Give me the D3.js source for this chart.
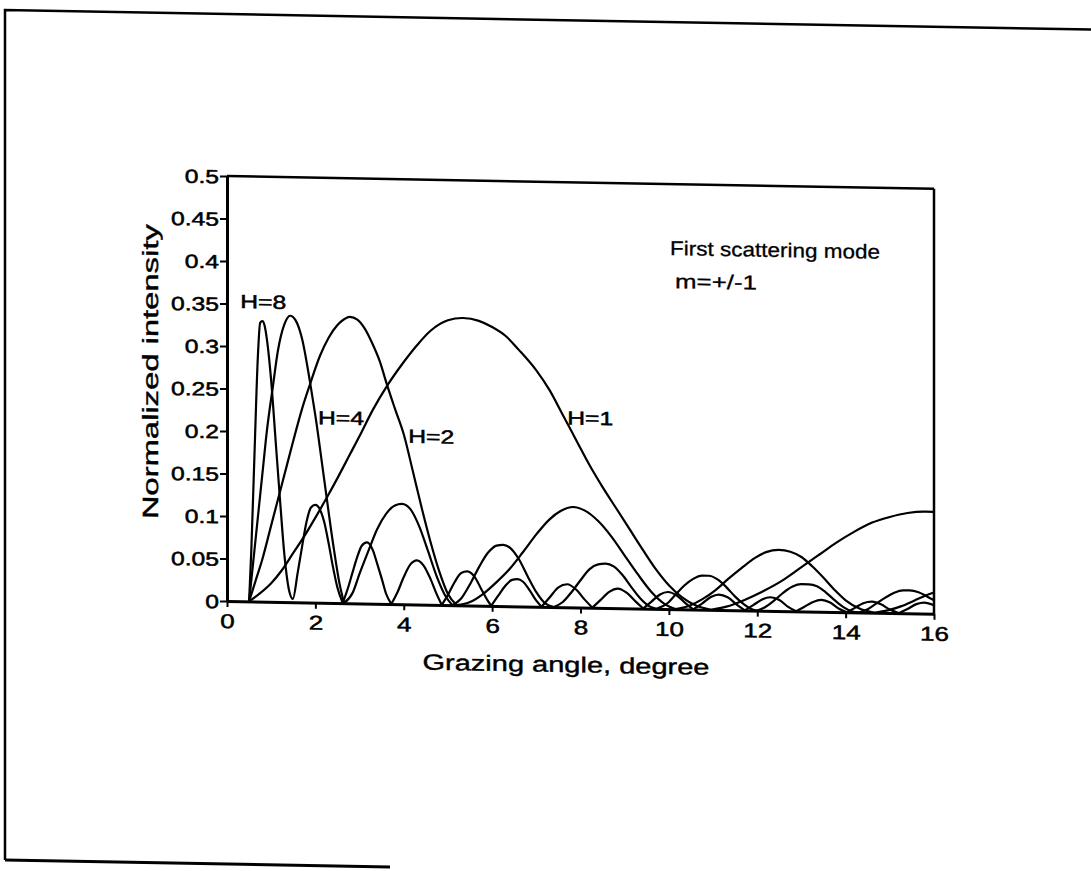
<!DOCTYPE html>
<html><head><meta charset="utf-8">
<script src="https://cdn.jsdelivr.net/npm/d3@7"></script>
<style>body{margin:0;background:#fff}svg{display:block}</style>
</head><body>
<svg id="c" width="1091" height="871"></svg>
<script>
// ---- data ----
const xTicks = [0, 2, 4, 6, 8, 10, 12, 14, 16];
const yTicks = [0, 0.05, 0.1, 0.15, 0.2, 0.25, 0.3, 0.35, 0.4, 0.45, 0.5];
const yTickLabels = ["0", "0.05", "0.1", "0.15", "0.2", "0.25", "0.3", "0.35", "0.4", "0.45", "0.5"];
const xTitle = "Grazing angle, degree";
const yTitle = "Normalized intensity";
const noteLines = ["First scattering mode", "m=+/-1"];
const seriesNames = ["H=8", "H=4", "H=2", "H=1"];

const H8 = [[0.5,0],[0.55,0.06],[0.62,0.17],[0.7,0.29],[0.75,0.328],[0.8,0.33],[0.85,0.325],[0.9,0.31],[1.0,0.26],[1.1,0.19],[1.2,0.12],[1.3,0.055],[1.4,0.015],[1.49,0.004],
 [1.6,0.035],[1.7,0.066],[1.8,0.095],[1.9,0.112],[2.0,0.115],[2.1,0.11],[2.2,0.095],[2.3,0.07],[2.4,0.042],[2.5,0.018],[2.62,0],
 [2.75,0.02],[2.85,0.038],[2.95,0.055],[3.05,0.068],[3.17,0.072],[3.3,0.063],[3.4,0.047],[3.5,0.03],[3.6,0.012],[3.72,0],
 [3.85,0.013],[4.0,0.032],[4.15,0.047],[4.3,0.052],[4.45,0.046],[4.6,0.031],[4.75,0.012],[4.86,0],
 [5.0,0.012],[5.15,0.027],[5.3,0.038],[5.44,0.04],[5.6,0.034],[5.75,0.02],[5.9,0.006],[5.98,0],
 [6.15,0.013],[6.3,0.024],[6.45,0.031],[6.57,0.032],[6.7,0.029],[6.85,0.019],[7.0,0.007],[7.12,0],
 [7.3,0.011],[7.5,0.023],[7.7,0.027],[7.9,0.021],[8.1,0.009],[8.27,0],
 [8.45,0.009],[8.65,0.019],[8.85,0.023],[9.05,0.018],[9.25,0.008],[9.42,0],
 [9.6,0.008],[9.8,0.017],[9.98,0.02],[10.18,0.016],[10.38,0.007],[10.55,0],
 [10.75,0.007],[10.95,0.015],[11.13,0.018],[11.33,0.015],[11.55,0.006],[11.72,0],
 [11.9,0.006],[12.1,0.013],[12.3,0.016],[12.5,0.013],[12.7,0.005],[12.88,0],
 [13.05,0.005],[13.25,0.011],[13.45,0.014],[13.65,0.011],[13.85,0.004],[14.03,0],
 [14.2,0.005],[14.4,0.011],[14.6,0.013],[14.8,0.01],[15.0,0.004],[15.2,0],
 [15.4,0.005],[15.6,0.011],[15.78,0.013],[16.0,0.01]];

const H4 = [[0.5,0],[0.6,0.05],[0.7,0.1],[0.8,0.15],[0.9,0.2],[1.04,0.254],[1.15,0.295],[1.3,0.327],[1.43,0.337],[1.55,0.332],[1.7,0.31],[1.88,0.259],[2.0,0.22],[2.2,0.145],[2.4,0.07],[2.55,0.022],[2.65,0],
 [2.85,0.013],[3.0,0.035],[3.2,0.062],[3.4,0.088],[3.6,0.106],[3.8,0.116],[3.96,0.118],[4.15,0.112],[4.35,0.092],[4.55,0.063],[4.75,0.033],[4.95,0.01],[5.1,0],
 [5.3,0.008],[5.5,0.025],[5.7,0.045],[5.9,0.062],[6.1,0.071],[6.25,0.072],[6.4,0.069],[6.6,0.056],[6.8,0.036],[7.0,0.017],[7.2,0.004],[7.4,0],
 [7.6,0.006],[7.8,0.018],[8.0,0.032],[8.2,0.045],[8.4,0.051],[8.57,0.052],[8.75,0.049],[8.95,0.039],[9.15,0.025],[9.35,0.012],[9.55,0.003],[9.72,0],
 [9.95,0.006],[10.15,0.017],[10.35,0.028],[10.55,0.036],[10.75,0.04],[10.9,0.04],[11.1,0.036],[11.3,0.027],[11.5,0.016],[11.7,0.007],[11.85,0.002],[12.0,0],
 [12.2,0.005],[12.4,0.013],[12.6,0.022],[12.8,0.029],[13.0,0.032],[13.17,0.032],[13.35,0.03],[13.55,0.023],[13.75,0.014],[13.95,0.006],[14.15,0.001],[14.3,0],
 [14.5,0.004],[14.7,0.011],[14.9,0.018],[15.1,0.024],[15.3,0.027],[15.45,0.027],[15.65,0.025],[15.85,0.02],[16.0,0.016]];

const H2 = [[0.5,0],[0.65,0.025],[0.8,0.05],[1.0,0.09],[1.15,0.12],[1.35,0.16],[1.5,0.19],[1.7,0.228],[1.88,0.257],[2.1,0.29],[2.3,0.312],[2.5,0.327],[2.65,0.334],[2.78,0.337],[2.95,0.334],[3.1,0.325],[3.3,0.305],[3.46,0.285],[3.62,0.258],[3.8,0.23],[4.0,0.2],[4.2,0.158],[4.4,0.115],[4.6,0.075],[4.8,0.04],[5.0,0.013],[5.2,0],
 [5.5,0.004],[5.8,0.014],[6.1,0.028],[6.4,0.044],[6.7,0.064],[7.0,0.085],[7.3,0.103],[7.55,0.113],[7.83,0.118],[8.1,0.114],[8.4,0.102],[8.7,0.084],[9.0,0.062],[9.3,0.04],[9.6,0.02],[9.9,0.006],[10.15,0],
 [10.45,0.004],[10.75,0.012],[11.05,0.023],[11.35,0.037],[11.65,0.05],[11.95,0.062],[12.2,0.069],[12.49,0.072],[12.75,0.07],[13.0,0.064],[13.25,0.053],[13.5,0.04],[13.75,0.026],[14.0,0.014],[14.3,0.005],[14.65,0],
 [14.95,0.003],[15.25,0.008],[15.55,0.015],[15.8,0.021],[16.0,0.025]];

const H1 = [[0.5,0],[0.75,0.01],[1.0,0.022],[1.25,0.038],[1.5,0.058],[1.75,0.078],[2.0,0.1],[2.25,0.123],[2.5,0.147],[2.75,0.172],[3.0,0.197],[3.3,0.228],[3.64,0.258],[4.0,0.285],[4.3,0.305],[4.6,0.322],[5.0,0.335],[5.34,0.338],[5.7,0.335],[6.0,0.328],[6.3,0.318],[6.6,0.302],[7.0,0.278],[7.3,0.255],[7.6,0.226],[7.9,0.197],[8.2,0.168],[8.5,0.142],[8.8,0.118],[9.1,0.094],[9.4,0.07],[9.7,0.047],[10.0,0.028],[10.3,0.014],[10.6,0.005],[10.95,0],
 [11.3,0.004],[11.7,0.012],[12.1,0.022],[12.6,0.037],[13.0,0.052],[13.4,0.067],[13.8,0.082],[14.2,0.095],[14.6,0.106],[15.0,0.113],[15.4,0.118],[15.8,0.12],[16.0,0.12]];

// label anchors (data coordinates) for the curve names
const labelX = [0.3, 2.06, 4.1, 7.7];
const labelY = [0.345, 0.21, 0.19, 0.215];

(function () {
const svg = d3.select("#c");
const FONT = "'Liberation Sans', Arial, Helvetica, sans-serif";
const pL = 227, pR = 934, pT = 172, pB = 597;
const shear = 1.03; // scanned page is slightly sheared

const page = svg.append("g").attr("transform", `skewY(${shear})`);
page.append("path").attr("d", "M5,860 L5,10 L1091,10").attr("fill", "none").attr("stroke", "#000").attr("stroke-width", 2.5);
page.append("line").attr("x1", 5).attr("y1", 860).attr("x2", 390).attr("y2", 860).attr("stroke", "#000").attr("stroke-width", 3);

const x = d3.scaleLinear().domain([0, 16]).range([pL, pR]);
const y = d3.scaleLinear().domain([0, 0.5]).range([pB, pT]);

const g = page.append("g");

g.append("line").attr("x1", pL).attr("x2", pR).attr("y1", y(0.5)).attr("y2", y(0.5)).attr("stroke", "#000").attr("stroke-width", 2.5);
g.append("line").attr("x1", pR).attr("x2", pR).attr("y1", y(0.5)).attr("y2", y(0)).attr("stroke", "#000").attr("stroke-width", 2.5);

const xAxis = d3.axisBottom(x).tickValues(xTicks).tickFormat(d3.format("d")).tickSize(6).tickSizeOuter(0).tickPadding(3);
const yAxis = d3.axisLeft(y).tickValues(yTicks).tickFormat((d, i) => yTickLabels[i]).tickSize(7).tickSizeOuter(0).tickPadding(1);

const gx = g.append("g").attr("transform", `translate(0,${pB})`).call(xAxis);
const gy = g.append("g").attr("transform", `translate(${pL},0)`).call(yAxis);
[gx, gy].forEach(a => {
  a.select(".domain").attr("stroke", "#000").attr("stroke-width", 3);
  a.selectAll(".tick line").attr("stroke", "#000").attr("stroke-width", 2);
  a.selectAll(".tick text").attr("fill", "#000").attr("font-family", FONT).attr("class", "stretch")
    .attr("stroke", "#000").attr("stroke-width", 0.5);
});
gy.selectAll(".tick text").attr("font-size", 19).attr("dy", "0.36em");
gx.selectAll(".tick text").attr("font-size", 20).attr("dy", "0.9em");

const line = d3.line().x(d => x(d[0])).y(d => y(d[1])).curve(d3.curveMonotoneX);
function lobes(data) {
  const segs = []; let cur = [data[0]];
  for (let i = 1; i < data.length; i++) {
    cur.push(data[i]);
    if (data[i][1] === 0 && i < data.length - 1) { segs.push(cur); cur = [data[i]]; }
  }
  if (cur.length > 1) segs.push(cur);
  return segs;
}
[H8, H4, H2, H1].forEach(s => {
  g.append("g").selectAll("path").data(lobes(s)).join("path")
    .attr("d", line).attr("fill", "none").attr("stroke", "#000").attr("stroke-width", 2.2).attr("stroke-linejoin", "round");
});

seriesNames.forEach((n, i) => {
  g.append("text").attr("x", x(labelX[i])).attr("y", y(labelY[i])).text(n)
    .attr("font-family", FONT).attr("font-size", 19).attr("fill", "#000").attr("class", "stretch")
    .attr("stroke", "#000").attr("stroke-width", 0.5);
});

g.append("text").attr("x", 670).attr("y", 243).text(noteLines[0]).attr("font-family", FONT).attr("font-size", 20)
  .attr("fill", "#000").attr("textLength", 210).attr("lengthAdjust", "spacingAndGlyphs").attr("stroke", "#000").attr("stroke-width", 0.3);
g.append("text").attr("x", 675).attr("y", 276).text(noteLines[1]).attr("font-family", FONT).attr("font-size", 20)
  .attr("fill", "#000").attr("textLength", 82).attr("lengthAdjust", "spacingAndGlyphs").attr("stroke", "#000").attr("stroke-width", 0.3);

g.append("text").attr("x", 566).attr("y", 662).attr("text-anchor", "middle").text(xTitle)
  .attr("font-family", FONT).attr("font-size", 22).attr("fill", "#000")
  .attr("textLength", 287).attr("lengthAdjust", "spacingAndGlyphs").attr("stroke", "#000").attr("stroke-width", 0.4);
g.append("text").attr("transform", "translate(158,369) rotate(-90)").attr("text-anchor", "middle").text(yTitle)
  .attr("font-family", FONT).attr("font-size", 22).attr("fill", "#000")
  .attr("textLength", 295).attr("lengthAdjust", "spacingAndGlyphs").attr("stroke", "#000").attr("stroke-width", 0.4);

svg.selectAll("text.stretch").each(function () {
  const w = this.getComputedTextLength();
  d3.select(this).attr("textLength", w * 1.3).attr("lengthAdjust", "spacingAndGlyphs");
});
})();
</script>
</body></html>
